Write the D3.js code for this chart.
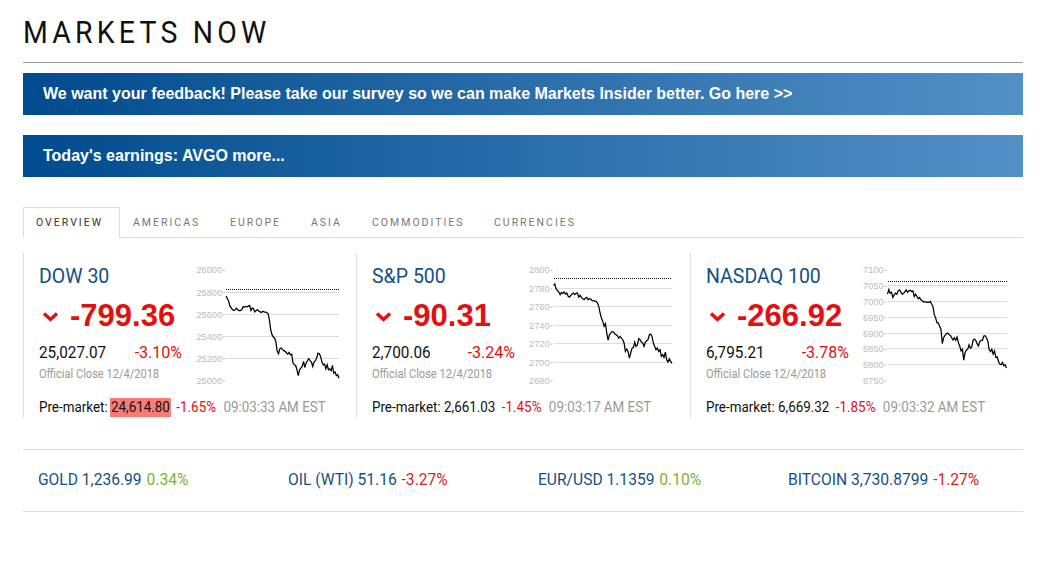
<!DOCTYPE html>
<html>
<head>
<meta charset="utf-8">
<script src="https://d3js.org/d3.v7.min.js"></script>
<style>
  html, body { margin: 0; padding: 0; background: #fff; overflow: hidden; }
  svg { display: block; }
  text { font-family: Roboto, sans-serif; }
  .bold { font-family: "Liberation Sans", Arial, sans-serif; font-weight: bold; }
</style>
</head>
<body>
<svg id="page" width="1052" height="568"></svg>
<script>
// Chart values
var dowValues = [25764,25742,25718,25673,25657,25639,25633,25642,25654,25639,25633,25633,25642,25667,25664,25670,25667,25673,25679,25633,25657,25648,25621,25633,25642,25627,25621,25615,25627,25621,25618,25615,25606,25551,25461,25415,25394,25385,25348,25264,25242,25288,25294,25282,25270,25264,25251,25239,25254,25233,25239,25158,25142,25136,25097,25045,25097,25112,25127,25173,25118,25158,25179,25197,25179,25167,25127,25167,25179,25203,25248,25242,25218,25167,25142,25148,25106,25142,25097,25106,25088,25136,25067,25076,25045,25052,25021];
var spxValues = [2783.3,2784.8,2779.3,2777.9,2776.1,2773.2,2775.7,2774.6,2776.1,2773.9,2775,2771.4,2770.6,2772.5,2773.9,2775,2773.2,2774.6,2775,2770.6,2772.5,2770.3,2768.8,2767.8,2769.6,2770.3,2767.8,2768.8,2768.5,2766.7,2766.7,2766.3,2765.9,2764.1,2760.5,2753.3,2747.8,2744.2,2738.8,2741.7,2731.5,2723.9,2729.7,2731.5,2733.3,2732.6,2730.8,2729.7,2728.6,2726.1,2727.9,2726.1,2724.3,2720.7,2711.6,2714.1,2711.6,2704.3,2709.8,2715.2,2715.9,2721.7,2717,2718.8,2725.4,2724.3,2721.7,2720.7,2717,2721.7,2723.2,2724.3,2729.7,2730.4,2727.9,2720.7,2717,2713.4,2715.2,2711.6,2713.4,2706.2,2708,2705.1,2710.9,2702.5,2700,2703.6,2700.7,2698.6];
var ndxValues = [7023.4,7038,7026.5,7029.7,7013,7021.3,7026.5,7023.4,7033.9,7037,7029.7,7023.4,7025.5,7031.8,7037,7029.7,7033.9,7035.9,7031.8,7033.9,7016.1,7023.4,7016.1,7008.8,7013,7005.7,7002.5,6998.4,7000.4,6997.3,6998.4,6997.3,7000.4,6992.1,6984.8,6958.7,6948.2,6932.6,6932.6,6922.1,6911.7,6866.8,6885.6,6892.9,6898.1,6900.2,6896,6892.9,6885.6,6878.3,6885.6,6877.3,6887.7,6869.9,6859.5,6843.8,6849.1,6814.6,6838.6,6845.9,6849.1,6862.6,6852.2,6856.4,6877.3,6881.4,6877.3,6866.8,6859.5,6873.1,6877.3,6877.3,6890.8,6891.9,6885.6,6875.2,6849.1,6841.8,6849.1,6833.4,6843.8,6823,6825.1,6810.4,6802.1,6800,6807.3,6796.9,6800,6789.6];

var dowTicks = [26000,25800,25600,25400,25200,25000];
var spxTicks = [2800,2780,2760,2740,2720,2700,2680];
var ndxTicks = [7100,7050,7000,6950,6900,6850,6800,6750];

var indexNames = ["DOW 30","S&P 500","NASDAQ 100"];
var indexChanges = [-799.36,-90.31,-266.92];
var indexCloses = [25027.07,2700.06,6795.21];
var indexPercents = ["-3.10%","-3.24%","-3.78%"];
var preMarketPrices = ["24,614.80","2,661.03","6,669.32"];
var preMarketPercents = ["-1.65%","-1.45%","-1.85%"];
var preMarketTimes = ["09:03:33 AM EST","09:03:17 AM EST","09:03:32 AM EST"];

var tabNames = ["OVERVIEW","AMERICAS","EUROPE","ASIA","COMMODITIES","CURRENCIES"];
var tabX = [36,133,230,311,372,494];

var tickerNames = ["GOLD 1,236.99","OIL (WTI) 51.16","EUR/USD 1.1359","BITCOIN 3,730.8799"];
var tickerPercents = ["0.34%","-3.27%","0.10%","-1.27%"];

var svg = d3.select("#page");
var navy = "#14507f", red = "#e3100f";

// the original face is narrower than Roboto, so squeeze the text horizontally
function squeezed(parent, x, y, sx) {
  return parent.append("text").attr("transform", "translate(" + x + "," + y + ") scale(" + sx + ",1)");
}

var defs = svg.append("defs");
var grad = defs.append("linearGradient").attr("id", "banner");
grad.append("stop").attr("offset", "0%").attr("stop-color", "#004b8e");
grad.append("stop").attr("offset", "100%").attr("stop-color", "#5390c6");

// Header
squeezed(svg, 23, 43, 0.917)
  .style("font-size", "31px").style("letter-spacing", "4.6px").style("fill", "#111")
  .text("MARKETS NOW");
svg.append("line").attr("x1", 23).attr("x2", 1023).attr("y1", 62.5).attr("y2", 62.5)
  .attr("stroke", "#999");

// Banners
[[73, "We want your feedback! Please take our survey so we can make Markets Insider better. Go here >>"],
 [135, "Today's earnings: AVGO more..."]].forEach(function(b) {
  svg.append("rect").attr("x", 23).attr("y", b[0]).attr("width", 1000).attr("height", 42)
    .attr("fill", "url(#banner)");
  svg.append("text").attr("class", "bold").attr("x", 43).attr("y", b[0] + 26)
    .style("font-size", "16px").style("fill", "#fff").text(b[1]);
});

// Tabs
svg.append("path").attr("d", "M23.5,237.5V207.5H119.5V237.5").attr("fill", "none").attr("stroke", "#ddd");
svg.append("path").attr("d", "M119.5,237.5H1023").attr("fill", "none").attr("stroke", "#ddd");
tabNames.forEach(function(t, i) {
  svg.append("text").attr("x", tabX[i]).attr("y", 226)
    .style("font-size", "10.5px").style("letter-spacing", "2px")
    .style("fill", i == 0 ? "#333" : "#777").text(t);
});

// Index panels
function drawPanel(i, x0, values, ticks, plotLeft, plotRight) {
  var g = svg.append("g");
  var close = indexCloses[i], change = indexChanges[i];

  squeezed(g, x0, 283, 0.93).style("font-size", "21px").style("fill", navy).text(indexNames[i]);
  g.append("path").attr("d", "M" + (x0 + 5) + ",313.5l6.5,6l6.5,-6").attr("fill", "none")
    .attr("stroke", red).attr("stroke-width", 3.4);
  g.append("text").attr("class", "bold").attr("x", x0 + 31).attr("y", 326)
    .style("font-size", "31px").style("fill", red).text(change.toFixed(2));
  squeezed(g, x0, 358, 0.957).style("font-size", "16px").style("fill", "#111")
    .text(d3.format(",.2f")(close));
  g.append("text").attr("x", x0 + 143).attr("y", 358).attr("text-anchor", "end")
    .style("font-size", "16px").style("fill", red).text(indexPercents[i]);
  squeezed(g, x0, 378, 0.82).style("font-size", "13.5px").style("fill", "#999")
    .text("Official Close 12/4/2018");

  // Pre-market row
  var row = squeezed(g, x0, 412, 0.925).style("font-size", "14.5px");
  row.append("tspan").style("fill", "#111").text("Pre-market: ");
  row.append("tspan").style("fill", "#111").attr("class", "price").text(preMarketPrices[i]);
  row.append("tspan").style("fill", red).attr("dx", 7).text(preMarketPercents[i]);
  row.append("tspan").style("fill", "#999").attr("dx", 8).text(preMarketTimes[i]);
  if (i == 0) {
    var box = row.select(".price").node();
    var start = box.getStartPositionOfChar(0).x;
    var end = box.getEndPositionOfChar(preMarketPrices[i].length - 1).x;
    g.insert("rect", "text").attr("x", x0 + 0.925 * start - 1).attr("y", 398)
      .attr("width", 0.925 * (end - start) + 2).attr("height", 19).attr("fill", "#f67c76");
  }

  // Sparkline
  var y = d3.scaleLinear().domain([ticks[ticks.length - 1], ticks[0]]).range([380.5, 270]);
  var x = d3.scaleLinear().domain([0, values.length - 1]).range([plotLeft, plotRight]);

  var grid = g.append("g").attr("shape-rendering", "crispEdges");
  grid.selectAll("line").data(ticks.slice(1, -1)).join("line")
    .attr("x1", plotLeft).attr("x2", plotRight).attr("y1", function(d) { return y(d); })
    .attr("y2", function(d) { return y(d); }).attr("stroke", "#ddd");

  var axis = g.append("g").attr("transform", "translate(" + (plotLeft - 1) + ",0)")
    .call(d3.axisLeft(y).tickValues(ticks).tickSize(2).tickPadding(1).tickFormat(d3.format("d")));
  axis.select(".domain").remove();
  axis.selectAll("line").attr("stroke", "#bbb");
  axis.selectAll("text").style("font-size", "9.2px").style("font-family", "'Liberation Sans', sans-serif").style("fill", "#bbb");

  g.append("line").attr("x1", plotLeft).attr("x2", plotRight)
    .attr("y1", Math.floor(y(close - change)) + 0.5).attr("y2", Math.floor(y(close - change)) + 0.5)
    .attr("stroke", "#112").attr("stroke-dasharray", "1,1").attr("shape-rendering", "crispEdges");

  var line = d3.line().x(function(d, k) { return x(k); }).y(function(d) { return y(d); });
  g.append("path").datum(values).attr("d", line).attr("fill", "none").attr("stroke", "#000").attr("stroke-width", 1.25);
}

drawPanel(0, 39, dowValues, dowTicks, 226, 339);
drawPanel(1, 372, spxValues, spxTicks, 553.5, 672);
drawPanel(2, 706, ndxValues, ndxTicks, 887.5, 1006.5);

// Panel separators
[23, 356, 690].forEach(function(px) {
  svg.append("line").attr("x1", px + 0.5).attr("x2", px + 0.5).attr("y1", 253).attr("y2", 418).attr("stroke", "#ddd");
});

// Bottom ticker row
[449.5, 511.5].forEach(function(py) {
  svg.append("line").attr("x1", 23).attr("x2", 1023).attr("y1", py).attr("y2", py).attr("stroke", "#ddd");
});
tickerNames.forEach(function(t, i) {
  var row = squeezed(svg, 38 + 250 * i, 485, 0.975).style("font-size", "16px");
  row.append("tspan").style("fill", navy).text(t);
  row.append("tspan").attr("dx", 5).style("fill", tickerPercents[i][0] == "-" ? "#e02020" : "#7ab32e").text(tickerPercents[i]);
});
</script>
</body>
</html>
